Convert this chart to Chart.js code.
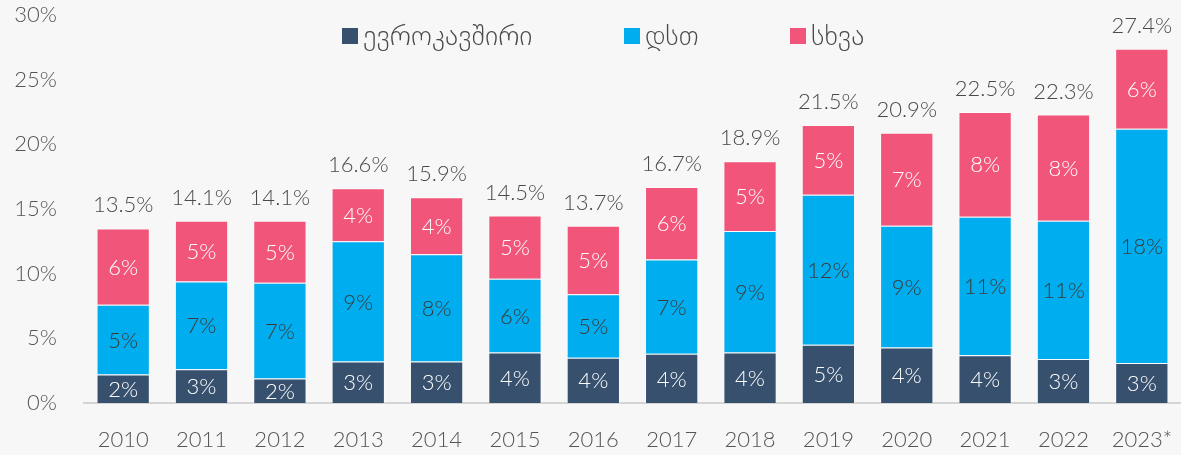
<!DOCTYPE html>
<html>
<head>
<meta charset="utf-8">
<script src="https://cdn.jsdelivr.net/npm/chart.js@4"></script>
<style>
  html, body { margin: 0; padding: 0; background: #f7f7f7; }
  #wrap { width: 1181px; height: 455px; }
</style>
</head>
<body>
<div id="wrap"><canvas id="tradeChart"></canvas></div>
<script>
const years = ['2010', '2011', '2012', '2013', '2014', '2015', '2016', '2017', '2018', '2019', '2020', '2021', '2022', '2023*'];
const euShare = [2.2, 2.6, 1.9, 3.2, 3.2, 3.9, 3.5, 3.8, 3.9, 4.5, 4.3, 3.7, 3.4, 3.1];
const cisShare = [5.4, 6.8, 7.4, 9.3, 8.3, 5.7, 4.9, 7.3, 9.4, 11.6, 9.4, 10.7, 10.7, 18.1];
const otherShare = [5.9, 4.7, 4.8, 4.1, 4.4, 4.9, 5.3, 5.6, 5.4, 5.4, 7.2, 8.1, 8.2, 6.2];
const totals = ['13.5%', '14.1%', '14.1%', '16.6%', '15.9%', '14.5%', '13.7%', '16.7%', '18.9%', '21.5%', '20.9%', '22.5%', '22.3%', '27.4%'];
const yTicks = [0, 5, 10, 15, 20, 25, 30];

const FONT = "Lato, 'DejaVu Sans', sans-serif";
const labelColors = ['#ffffff', '#3a3a3a', '#ffffff'];

// numbers inside the bars + totals above them
const barLabels = {
  id: 'barLabels',
  afterDatasetsDraw(chart) {
    const ctx = chart.ctx;
    ctx.save();
    ctx.font = '300 22px ' + FONT;
    ctx.textAlign = 'center';
    ctx.textBaseline = 'middle';
    chart.data.datasets.forEach((ds, i) => {
      chart.getDatasetMeta(i).data.forEach((bar, j) => {
        ctx.fillStyle = labelColors[i];
        ctx.fillText(Math.round(ds.data[j]) + '%', bar.x, (bar.y + bar.base) / 2 + 1);
      });
    });
    const last = chart.getDatasetMeta(chart.data.datasets.length - 1);
    ctx.fillStyle = '#4a4a4a';
    last.data.forEach((bar, j) => {
      ctx.fillText(totals[j], bar.x, bar.y - 23);
    });
    ctx.restore();
  }
};

// legend sits inside the plot area
const innerLegend = {
  id: 'innerLegend',
  afterDraw(chart) {
    const ctx = chart.ctx;
    const starts = [342, 624, 790];
    ctx.save();
    ctx.font = '300 28px ' + FONT;
    ctx.textBaseline = 'middle';
    chart.data.datasets.forEach((ds, i) => {
      ctx.fillStyle = ds.backgroundColor;
      ctx.fillRect(starts[i], 28, 16, 16);
      ctx.fillStyle = '#4a4a4a';
      ctx.fillText(ds.label, starts[i] + 21, 36);
    });
    ctx.restore();
  }
};

new Chart(document.getElementById('tradeChart').getContext('2d'), {
  type: 'bar',
  data: {
    labels: years,
    datasets: [
      { label: 'ევროკავშირი', data: euShare, backgroundColor: '#37506e' },
      { label: 'დსთ', data: cisShare, backgroundColor: '#00adee' },
      { label: 'სხვა', data: otherShare, backgroundColor: '#f1567a' }
    ]
  },
  options: {
    responsive: true,
    maintainAspectRatio: false,
    animation: false,
    layout: { padding: { top: 15, right: -5, bottom: 0, left: 0 } },
    datasets: {
      bar: {
        barPercentage: 0.68,
        categoryPercentage: 1,
        borderWidth: 1,
        borderColor: 'rgba(255,255,255,0.45)'
      }
    },
    plugins: {
      legend: { display: false },
      tooltip: { enabled: false }
    },
    scales: {
      x: {
        stacked: true,
        afterFit(axis) { axis.height = 52; axis.paddingLeft = 0; axis.paddingRight = 0; },
        grid: { display: false },
        border: { display: true, color: '#d4d4d4', width: 2 },
        ticks: { color: '#555', font: { family: FONT, size: 22, weight: 300 }, padding: 16 }
      },
      y: {
        stacked: true,
        min: 0,
        max: 30,
        afterBuildTicks(axis) { axis.ticks = yTicks.map(v => ({ value: v })); },
        afterFit(axis) { axis.width = 84; axis.paddingTop = 0; axis.paddingBottom = 0; },
        grid: { display: false },
        border: { display: false },
        ticks: {
          color: '#555',
          padding: 19,
          font: { family: FONT, size: 22, weight: 300 },
          callback: v => v + '%'
        }
      }
    }
  },
  plugins: [barLabels, innerLegend]
});
</script>
</body>
</html>
